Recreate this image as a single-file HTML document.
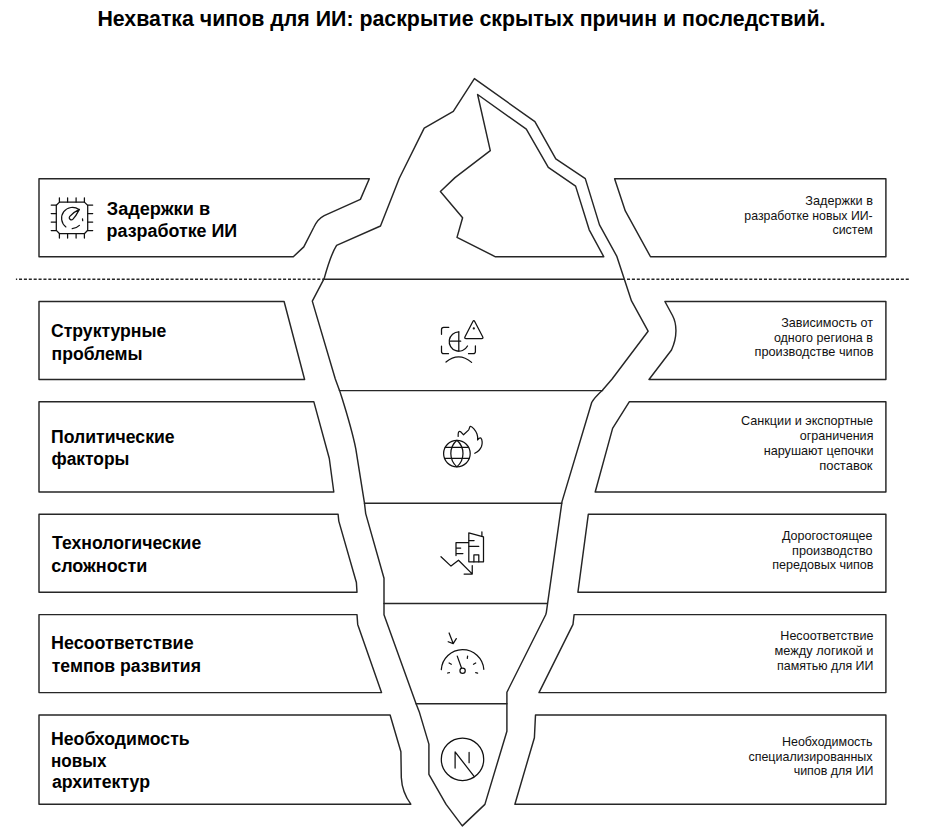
<!DOCTYPE html>
<html><head><meta charset="utf-8">
<style>
html,body{margin:0;padding:0;background:#fff;}
body{width:929px;height:832px;overflow:hidden;position:relative;}
svg{position:absolute;left:0;top:0;}
text{font-family:"Liberation Sans",sans-serif;}
.tt{font-weight:bold;font-size:22.0px;fill:#000;}
.hh{font-weight:bold;font-size:18.0px;fill:#000;}
.rr{font-size:12.8px;fill:#111;}
</style></head><body>
<svg width="929" height="832" viewBox="0 0 929 832">
<g fill="none" stroke="#262626" stroke-width="1.45" stroke-linejoin="round" stroke-linecap="round">
<!-- water line dashed -->
<line x1="15.9" y1="279.25" x2="324.5" y2="279.25" stroke-dasharray="3.05 1.84" stroke-dashoffset="1.79" stroke-linecap="butt"/>
<line x1="627.0" y1="279.25" x2="909" y2="279.25" stroke-dasharray="3.05 1.84" stroke-linecap="butt"/>
<line x1="324" y1="279.25" x2="623.6" y2="279.25"/>
<!-- outer iceberg -->
<path d="M474.4 78.6 L453.3 111.3 L424.2 128.1 L399.3 178.3 L380.5 226 L336.6 245.3 Q331 254 324.1 278.7 L312.3 301.1 L335.3 379 L339.7 390.9 L342 398 Q352 430 355.8 448.8 L364.4 502.6 L365.7 513.6 L384 578.2 L384 614.8 L415.8 703 L419.5 712.6 L428.9 744.1 L428.9 774.3 L446.1 804.4 L462.3 825.9 L484.9 804.4 L506.9 731.2 L506.9 692.2 L545.7 614.7 L546.3 612.6 L562 501.6 L591.7 402.5 Q594 398 602.4 390.2 L612.1 379 L648.1 331.2 L631.5 300.9 L616.7 256.1 L599.5 224.9 L585.3 178.6 L555.8 158.9 L534.9 121.7 Z"/>
<!-- inner summit -->
<path d="M477.6 94.5 L490.3 150.7 L455 177.6 L440.4 191.5 L462.6 217.8 L457 237.4 L495.5 256.8 L603.8 256.8 L589.2 229.8 L575.6 186.1 L548.3 167.3 L526.3 129.2 Z"/>
<!-- separators -->
<line x1="339.4" y1="390.6" x2="602.6" y2="390.6"/>
<line x1="364.5" y1="503.2" x2="561.7" y2="503.2"/>
<line x1="384" y1="603.5" x2="547" y2="603.5"/>
<line x1="416.1" y1="703.8" x2="506.9" y2="703.8"/>
<!-- left boxes -->
<path d="M39 178.7 L369.3 178.7 L360.4 199.4 L324.2 215.6 Q317.5 219 313.7 227.5 L303.8 246.9 L293.3 256.75 L39 256.75 Z"/>
<path d="M39 301.5 L284.1 301.5 L304.6 379.5 L39 379.5 Z"/>
<path d="M39 401.65 L313.8 401.65 L329.3 458.5 L333.8 492 L39 492 Z"/>
<path d="M39 514.3 L338.1 514.3 L338.8 521.1 L356.4 582.5 L357 592.3 L39 592.3 Z"/>
<path d="M39 614.6 L357 614.6 L357.7 624.4 L381.5 692.6 L39 692.6 Z"/>
<path d="M39 714.95 L390.1 714.95 L400.9 751.7 L401.3 777.5 Q402 792 410.8 804.2 L39 804.2 Z"/>
<!-- right boxes -->
<path d="M885.9 178.7 L614.6 178.7 L625.3 210.9 L650.5 256.75 L885.9 256.75 Z"/>
<path d="M885.9 301.5 L664.9 301.5 L672.5 315.5 C677 324 677.5 337 671.5 350 L649 379.5 L885.9 379.5 Z"/>
<path d="M885.9 401.65 L629.4 401.65 L612.6 428.4 L595.2 492 L885.9 492 Z"/>
<path d="M885.9 514.3 L588.3 514.3 L577.9 592.3 L885.9 592.3 Z"/>
<path d="M885.9 614.6 L574.1 614.6 L573 624.4 L539 692.6 L885.9 692.6 Z"/>
<path d="M885.9 714.95 L535.5 714.95 L534.4 737.7 L514.9 804.2 L885.9 804.2 Z"/>
</g>
<!-- icons -->
<g fill="none" stroke="#111" stroke-width="1.25" stroke-linejoin="round" stroke-linecap="round">
<!-- icon1 chip gauge -->
<path d="M59.5 202.1 H84.4 L87.7 205.4 V230.3 L84.6 233.5 H59.4 L56.3 230.4 V205.3 Z"/>
<path d="M59.4 197.8 V202.1 M67.6 197.8 V202.1 M76.1 197.8 V202.1 M84.4 197.8 V202.1 M59.4 233.5 V238.1 M67.6 233.5 V238.1 M76.1 233.5 V238.1 M84.4 233.5 V238.1 M51.2 205 H56.3 M51.2 213.6 H56.3 M51.2 222.1 H56.3 M51.2 230.5 H56.3 M87.7 205 H92.7 M87.7 213.6 H92.7 M87.7 222.1 H92.7 M87.7 230.5 H92.7"/>
<path d="M65.9 226.9 A10.7 10.7 0 1 1 79 209.6"/>
<path d="M72.2 228.6 A10.9 10.9 0 0 0 79.4 225.4"/>
<path d="M82.5 218.9 L82.7 220.7"/>
<path d="M79.4 209.4 Q76 216 73 219.1 A2.1 2.1 0 0 1 69.8 216.3 Q73 212.5 79.4 209.4 Z"/>
<!-- icon2 face scan warning -->
<path d="M441.5 334.3 V329.5 Q441.5 327.3 443.7 327.3 H448.8"/>
<path d="M441.5 346.2 V351.5 Q441.5 353.7 443.7 353.7 H448.5"/>
<path d="M475.4 345.9 V351.5 Q475.4 353.7 473.2 353.7 H468.5"/>
<path d="M458.8 331.8 A9.7 9.7 0 1 0 467.5 346"/>
<path d="M458.8 331.8 V351.2 M450.4 341.2 H460.7"/>
<path d="M472.88 321.58 Q473.80 319.80 474.73 321.57 L482.67 336.73 Q483.60 338.50 481.60 338.50 L466.10 338.50 Q464.10 338.50 465.02 336.72 Z"/>
<circle cx="473.8" cy="328.4" r="0.5"/>
<path d="M446 362.1 Q458.8 351.4 471.6 362.4"/>
<!-- icon3 globe fire -->
<circle cx="456.9" cy="453.6" r="13.3"/>
<path d="M456.9 440.3 A17.6 17.6 0 0 0 456.9 466.9 A17.6 17.6 0 0 0 456.9 440.3"/>
<path d="M445.2 447.3 H468.6 M444.7 458.4 H469.1"/>
<path d="M458.2 436.4 C458 433 458.5 431.5 459.5 431.4 C461 431.3 462.5 434 463.5 434.8 L468.5 430.1 C469.5 429 469.5 426.5 470.3 426.3 C472 426 476 431 477 434 C477.8 436.5 477.7 439.5 477.6 440 C478.5 438.5 480 437.5 480.8 438 C482.5 439.5 482.5 444 481.5 446.5 C480 450 477.5 452 474.8 453.3"/>
<!-- icon4 building decline -->
<path d="M468.8 532.9 L483.5 536.9 V561.75 H468.8 Z"/>
<path d="M481.9 531.75 V536.3 M469.1 540.5 H474.1 M469.1 546.25 H478.8 M473.9 561.75 V554.8 H478.8 V561.75"/>
<path d="M468.5 542.7 H456 V555.5 M456.6 548.1 H460.7 M456.6 553.6 H462.9"/>
<path d="M441 556.75 L451 566.1 L458.5 560.2 L471.9 573.6 M472.25 565.5 V574 H464.1"/>
<!-- icon5 speedometer -->
<path d="M441.3 669.6 A21.3 21.3 0 0 1 483.8 669.3"/>
<path d="M457.25 656.1 L461.5 668"/>
<circle cx="462.6" cy="670.7" r="2.65"/>
<path d="M449.1 663 L451.3 664.25 M467.6 656.1 L467.3 658.3 M473.5 664.25 L475.7 663 M447.6 673 L449.4 672.7 M475.7 672.7 L477.6 673.1"/>
<path d="M449.1 633 L453.2 643.6 M448.2 641.75 L453.2 643.6 L456.3 638.6"/>
<!-- icon6 N circle -->
<circle cx="462.5" cy="759.3" r="21.2"/>
<path d="M455.1 768 V751.9 L474.1 776.3 M469.1 752.4 V762.7"/>
</g>

<text class="tt" x="97.40" y="25.80" textLength="728.10" lengthAdjust="spacingAndGlyphs">Нехватка чипов для ИИ: раскрытие скрытых причин и последствий.</text>
<text class="hh" x="106.75" y="215.00" textLength="103.30" lengthAdjust="spacingAndGlyphs">Задержки в</text>
<text class="hh" x="106.60" y="237.30" textLength="130.60" lengthAdjust="spacingAndGlyphs">разработке ИИ</text>
<text class="hh" x="50.95" y="337.40" textLength="115.45" lengthAdjust="spacingAndGlyphs">Структурные</text>
<text class="hh" x="51.55" y="359.50" textLength="91.00" lengthAdjust="spacingAndGlyphs">проблемы</text>
<text class="hh" x="51.00" y="443.20" textLength="123.65" lengthAdjust="spacingAndGlyphs">Политические</text>
<text class="hh" x="51.50" y="465.30" textLength="77.90" lengthAdjust="spacingAndGlyphs">факторы</text>
<text class="hh" x="52.05" y="549.00" textLength="149.20" lengthAdjust="spacingAndGlyphs">Технологические</text>
<text class="hh" x="51.15" y="571.50" textLength="96.25" lengthAdjust="spacingAndGlyphs">сложности</text>
<text class="hh" x="51.00" y="649.30" textLength="142.60" lengthAdjust="spacingAndGlyphs">Несоответствие</text>
<text class="hh" x="51.75" y="671.70" textLength="149.20" lengthAdjust="spacingAndGlyphs">темпов развития</text>
<text class="hh" x="51.00" y="744.80" textLength="138.65" lengthAdjust="spacingAndGlyphs">Необходимость</text>
<text class="hh" x="51.00" y="766.90" textLength="55.45" lengthAdjust="spacingAndGlyphs">новых</text>
<text class="hh" x="51.90" y="788.00" textLength="98.10" lengthAdjust="spacingAndGlyphs">архитектур</text>
<text class="rr" x="805.30" y="204.90" textLength="67.60" lengthAdjust="spacingAndGlyphs">Задержки в</text>
<text class="rr" x="744.35" y="219.60" textLength="128.35" lengthAdjust="spacingAndGlyphs">разработке новых ИИ-</text>
<text class="rr" x="832.45" y="233.70" textLength="40.45" lengthAdjust="spacingAndGlyphs">систем</text>
<text class="rr" x="781.25" y="327.00" textLength="91.85" lengthAdjust="spacingAndGlyphs">Зависимость от</text>
<text class="rr" x="773.90" y="341.80" textLength="99.00" lengthAdjust="spacingAndGlyphs">одного региона в</text>
<text class="rr" x="754.50" y="356.40" textLength="118.95" lengthAdjust="spacingAndGlyphs">производстве чипов</text>
<text class="rr" x="741.10" y="425.30" textLength="132.00" lengthAdjust="spacingAndGlyphs">Санкции и экспортные</text>
<text class="rr" x="799.70" y="440.20" textLength="73.75" lengthAdjust="spacingAndGlyphs">ограничения</text>
<text class="rr" x="763.70" y="454.90" textLength="109.75" lengthAdjust="spacingAndGlyphs">нарушают цепочки</text>
<text class="rr" x="819.15" y="469.50" textLength="53.40" lengthAdjust="spacingAndGlyphs">поставок</text>
<text class="rr" x="781.95" y="539.90" textLength="90.60" lengthAdjust="spacingAndGlyphs">Дорогостоящее</text>
<text class="rr" x="792.10" y="554.60" textLength="80.45" lengthAdjust="spacingAndGlyphs">производство</text>
<text class="rr" x="772.30" y="569.00" textLength="101.15" lengthAdjust="spacingAndGlyphs">передовых чипов</text>
<text class="rr" x="780.35" y="640.30" textLength="93.10" lengthAdjust="spacingAndGlyphs">Несоответствие</text>
<text class="rr" x="774.55" y="655.00" textLength="98.90" lengthAdjust="spacingAndGlyphs">между логикой и</text>
<text class="rr" x="777.10" y="669.50" textLength="96.35" lengthAdjust="spacingAndGlyphs">памятью для ИИ</text>
<text class="rr" x="781.95" y="745.80" textLength="90.60" lengthAdjust="spacingAndGlyphs">Необходимость</text>
<text class="rr" x="748.45" y="760.50" textLength="124.10" lengthAdjust="spacingAndGlyphs">специализированных</text>
<text class="rr" x="793.65" y="774.60" textLength="79.80" lengthAdjust="spacingAndGlyphs">чипов для ИИ</text>
</svg>
</body></html>
